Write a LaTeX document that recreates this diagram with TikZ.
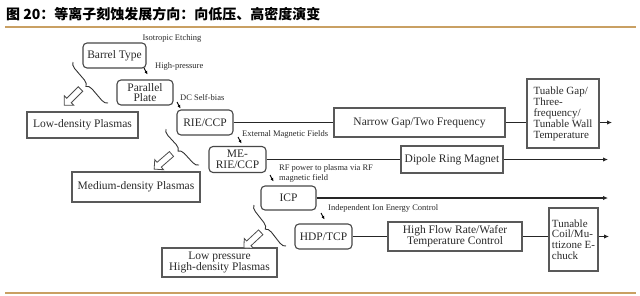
\documentclass[tikz,border=0pt]{standalone}
\usepackage{fontspec}
\setmainfont{Liberation Serif}
\newfontfamily\cjk{Noto Sans CJK SC}
\usetikzlibrary{arrows.meta,shapes.arrows,decorations.pathreplacing}
\definecolor{ruleTan}{HTML}{C9A063}
\definecolor{ink}{HTML}{2A2A2A}
\begin{document}
\begin{tikzpicture}[x=1pt,y=-1pt,
 rbox/.style={draw=black!72, line width=1.1pt, rounded corners=4pt, align=center, inner sep=1pt, text=ink, font=\fontsize{11.5}{10.5}\selectfont},
 sbox/.style={draw=black!65, line width=2pt, align=center, inner sep=1pt, text=ink, font=\fontsize{11.5}{11}\selectfont},
 lbl/.style={font=\fontsize{8.5}{10}\selectfont, inner sep=0pt, anchor=west, align=left, text=ink},
 conn/.style={line width=1.3pt, draw=black!85},
 tipline/.style={conn, -{Latex[length=5pt,width=4.5pt]}},
 smallarr/.style={line width=0.9pt, draw=black, -{Latex[length=3.5pt,width=3.2pt]}},
 hollow/.style={single arrow, draw=black!70, line width=0.8pt, fill=white, minimum height=23pt, single arrow head extend=3.5pt, inner xsep=0pt, inner ysep=2.8pt, anchor=center},
 brc/.style={decorate, decoration={brace, amplitude=6pt}, line width=0.9pt, draw=black!80}
]
\useasboundingbox (0,0) rectangle (640,295);
\fill[white] (0,0) rectangle (640,295);

% title and rules
\node[anchor=west, inner sep=0pt, font=\cjk\bfseries\fontsize{14}{14}\selectfont] (title) at (6,14) {图 20：等离子刻蚀发展方向：向低压、高密度演变};
\draw[ruleTan, line width=2pt] (5,27) -- (636,27);
\draw[ruleTan, line width=2pt] (5,293) -- (636,293);

% rounded process boxes
\node[rbox, minimum width=63pt, minimum height=25pt] (barrel) at (114.5,55.5) {Barrel Type};
\node[rbox, minimum width=56pt, minimum height=25pt] (parallel) at (145,92.5) {Parallel\\Plate};
\node[rbox, minimum width=56pt, minimum height=25pt] (rie) at (205,122.5) {RIE/CCP};
\node[rbox, minimum width=57pt, minimum height=26pt] (me) at (237.5,159.5) {ME-\\RIE/CCP};
\node[rbox, minimum width=55pt, minimum height=24pt] (icp) at (288.5,198) {ICP};
\node[rbox, minimum width=57pt, minimum height=25pt] (hdp) at (323.5,236.5) {HDP/TCP};

% square boxes
\node[sbox, minimum width=171pt, minimum height=29pt] (narrow) at (419.5,122.5) {Narrow Gap/Two Frequency};
\node[sbox, minimum width=72pt, minimum height=69pt, align=left, font=\fontsize{11}{11}\selectfont] (tuable) at (563,113.5) {Tuable Gap/\\Three-\\frequency/\\Tunable Wall\\Temperature};
\node[sbox, minimum width=102pt, minimum height=27pt] (dipole) at (452,159.5) {Dipole Ring Magnet};
\node[sbox, minimum width=134pt, minimum height=29pt] (highflow) at (455,236.5) {High Flow Rate/Wafer\\Temperature Control};
\node[sbox, minimum width=49pt, minimum height=63pt, align=left, font=\fontsize{11}{10.7}\selectfont] (tcoil) at (573.5,239.5) {Tunable\\Coil/Mu-\\ttizone E-\\chuck};

\node[sbox, minimum width=111pt, minimum height=26pt] (low) at (82.5,125) {Low-density Plasmas};
\node[sbox, minimum width=128pt, minimum height=30pt] (medium) at (136,187) {Medium-density Plasmas};
\node[sbox, minimum width=115pt, minimum height=29pt] (highd) at (219.5,262.5) {Low pressure\\High-density Plasmas};

% small labels
\node[lbl, anchor=center] (l1) at (172,38) {Isotropic Etching};
\node[lbl] (l2) at (155,66) {High-pressure};
\node[lbl] (l3) at (180,98) {DC Self-bias};
\node[lbl] (l4) at (242,134) {External Magnetic Fields};
\node[lbl] (l5) at (279,173) {RF power to plasma via RF\\magnetic field};
\node[lbl] (l6) at (328,208) {Independent Ion Energy Control};

% small step arrows
\coordinate (a1s) at (144,68); \coordinate (a1e) at (147.5,74.5);
\coordinate (a2s) at (177,102); \coordinate (a2e) at (180.5,108.5);
\coordinate (a3s) at (238,137); \coordinate (a3e) at (241.5,143.5);
\coordinate (a4s) at (270,175); \coordinate (a4e) at (273.5,181.5);
\coordinate (a5s) at (321,213); \coordinate (a5e) at (324.5,219.5);
\foreach \i in {1,...,5} {\draw[smallarr] (a\i s) -- (a\i e);}

% main connectors
\coordinate (e1) at (612,122.5);
\coordinate (e2) at (608,159.5);
\coordinate (e3) at (608,198);
\coordinate (e4) at (609,236.5);
\draw[conn] (rie.east) -- (narrow.west);
\draw[conn] (narrow.east) -- (narrow.east -| tuable.west);
\draw[tipline] (tuable.east |- e1) -- (e1);
\draw[conn] (me.east) -- (dipole.west);
\draw[tipline] (dipole.east) -- (e2);
\draw[tipline] (icp.east) -- (e3);
\draw[conn] (hdp.east) -- (highflow.west);
\draw[conn] (highflow.east) -- (highflow.east -| tcoil.west);
\draw[tipline] (tcoil.east |- e4) -- (e4);

% braces
\coordinate (b1a) at (73,62); \coordinate (b1b) at (108,103);
\coordinate (b2a) at (166,129); \coordinate (b2b) at (199,165);
\coordinate (b3a) at (254,205); \coordinate (b3b) at (286,246);
\draw[brc] (b1b) -- (b1a);
\draw[brc] (b2b) -- (b2a);
\draw[brc] (b3b) -- (b3a);

% hollow arrows
\node[hollow, rotate=225] (h1) at (73.5,96) {};
\node[hollow, rotate=221] (h2) at (164,160.5) {};
\node[hollow, rotate=223] (h3) at (253.5,239) {};
\end{tikzpicture}
\end{document}
